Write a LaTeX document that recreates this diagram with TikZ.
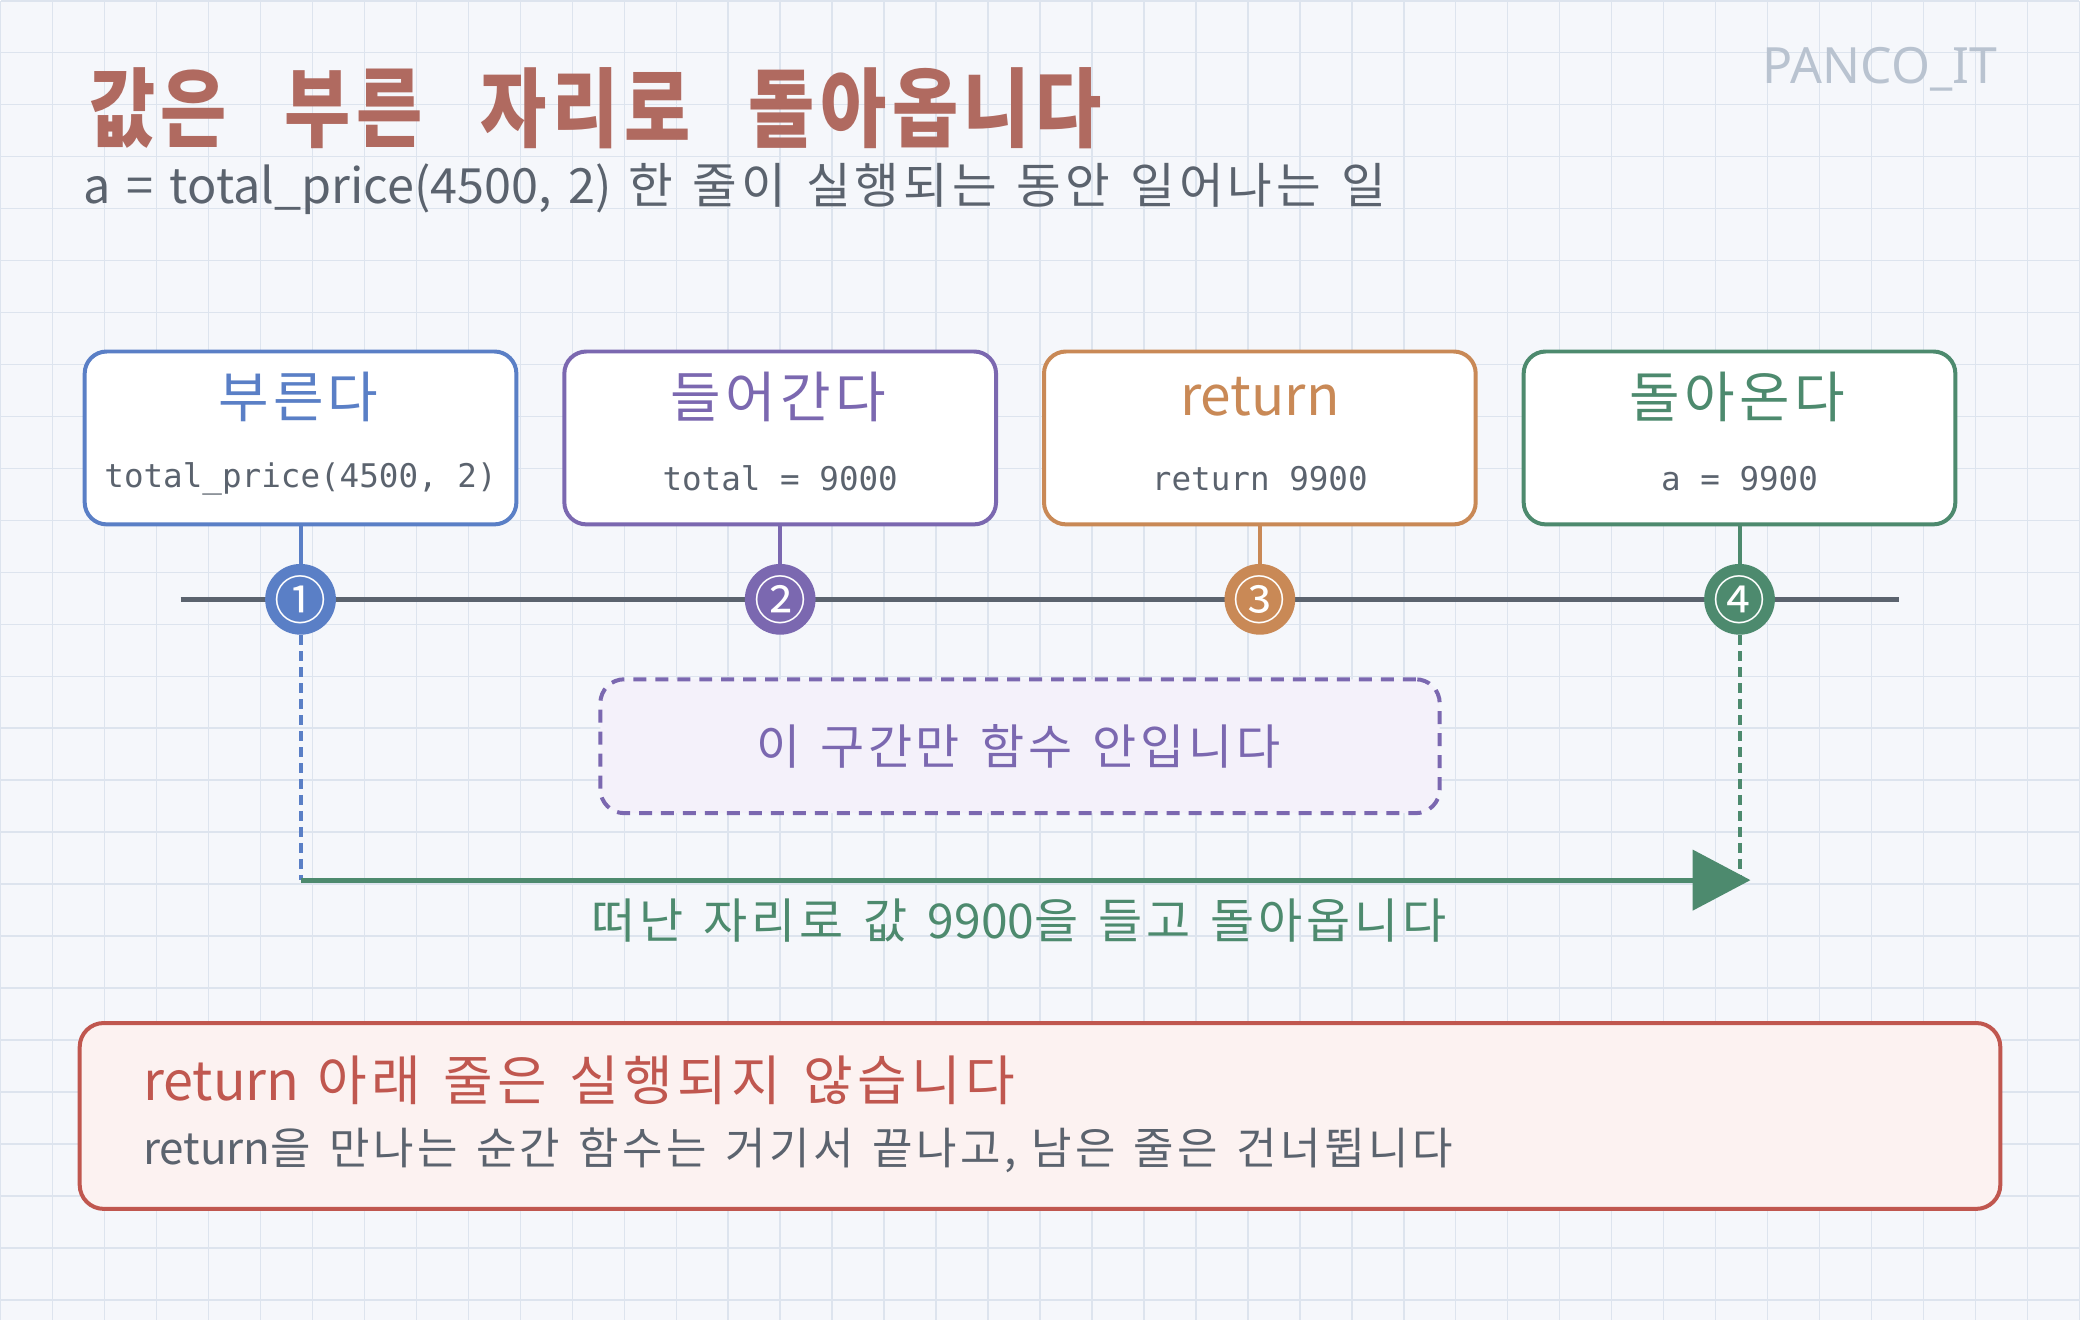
\documentclass[tikz,border=0pt]{standalone}
\usepackage{fontspec}
\usepackage{graphicx}
\setmainfont{Noto Sans CJK KR}[WordSpace=1.5]
\setmonofont{DejaVu Sans Mono}
\newfontfamily\brandfont{Noto Sans}
% a little more room after each Hangul syllable
\XeTeXinterchartokenstate=1
\newXeTeXintercharclass\hangul
\newcount\hangulcode
\hangulcode="AC00
\loop
	\XeTeXcharclass\hangulcode=\hangul
	\ifnum\hangulcode<"D7A3
	\advance\hangulcode by 1
\repeat
\XeTeXinterchartoks\hangul\hangul{\kern0.08em\relax}
\XeTeXinterchartoks\hangul 0 {\kern0.08em\relax}
\XeTeXinterchartoks\hangul 4095 {\kern0.08em\relax}
\usepackage{tikz}
\usetikzlibrary{arrows.meta}
\definecolor{paper}{HTML}{F5F7FB}
\definecolor{gridline}{HTML}{DDE4EE}
\definecolor{ink}{HTML}{5B636E}
\definecolor{brand}{HTML}{B9C3D0}
\definecolor{titlebrown}{HTML}{B06A60}
\definecolor{callblue}{HTML}{5A7FC6}
\definecolor{inpurple}{HTML}{7B68B0}
\definecolor{inpurplefill}{HTML}{F4F1FA}
\definecolor{retorange}{HTML}{C98956}
\definecolor{backgreen}{HTML}{4D8A6E}
\definecolor{notered}{HTML}{C0574F}
\definecolor{notefill}{HTML}{FCF2F1}
\tikzset{>={Triangle[length=29pt,width=30pt]}}

\begin{document}
\begin{tikzpicture}[x=0.5pt,y=-0.5pt,
	stage/.style={draw,line width=2pt,rounded corners=11pt,fill=white,minimum width=216pt,minimum height=86.5pt},
	head/.style={font=\fontsize{27.5}{32}\selectfont},
	code/.style={font=\ttfamily\fontsize{16.3}{20}\selectfont,text=ink},
	marker/.style={circle,minimum size=33pt,inner sep=0pt,text=white,font=\fontsize{26}{28}\selectfont},
	stem/.style={line width=2pt},
	trail/.style={line width=2pt,dash pattern=on 5pt off 3pt}]
	% paper and grid
	\fill[paper] (0,0) rectangle (2080,1320);
	\draw[gridline,line width=0.75pt,step=26pt] (0,1320) grid (2080,0);
	% heading
	\node[anchor=west,inner sep=0,text=titlebrown,font=\bfseries\fontsize{36}{40}\selectfont] (title) at (88,108) {\scalebox{1}[1.2]{값은\hspace{0.72em}부른\hspace{0.72em}자리로\hspace{0.72em}돌아옵니다}};
	\node[anchor=west,inner sep=0,text=ink,font=\fontsize{24.3}{28}\selectfont] (subtitle) at (82,188) {a = total\_price(4500, 2) 한 줄이 실행되는 동안 일어나는 일};
	\node[anchor=base east,inner sep=0,text=brand,font=\brandfont\fontsize{25}{28}\selectfont] (brand) at (1998,83) {PANCO\_IT};
	% four stages
	\node[stage,draw=callblue] (call) at (300,437.5) {};
	\node[head,text=callblue] (call head) at (300,396) {부른다};
	\node[code] (call code) at (300,478) {total\_price(4500, 2)};
	\node[stage,draw=inpurple] (enter) at (780,437.5) {};
	\node[head,text=inpurple] (enter head) at (780,396) {들어간다};
	\node[code] (enter code) at (780,478) {total = 9000};
	\node[stage,draw=retorange] (ret) at (1260,437.5) {};
	\node[head,text=retorange] (ret head) at (1260,396) {return};
	\node[code] (ret code) at (1260,478) {return 9900};
	\node[stage,draw=backgreen] (back) at (1740,437.5) {};
	\node[head,text=backgreen] (back head) at (1740,396) {돌아온다};
	\node[code] (back code) at (1740,478) {a = 9900};
	% timeline
	\coordinate (line start) at (180,599);
	\coordinate (line end) at (1900,599);
	\draw[ink,line width=2.5pt] (line start) -- (line end);
	\node[marker,fill=callblue] (m1) at (300,599) {①};
	\node[marker,fill=inpurple] (m2) at (780,599) {②};
	\node[marker,fill=retorange] (m3) at (1260,599) {③};
	\node[marker,fill=backgreen] (m4) at (1740,599) {④};
	\draw[stem,callblue] (call) -- (m1);
	\draw[stem,inpurple] (enter) -- (m2);
	\draw[stem,retorange] (ret) -- (m3);
	\draw[stem,backgreen] (back) -- (m4);
	% inside the function
	\node[draw=inpurple,fill=inpurplefill,line width=2pt,dash pattern=on 6.5pt off 4.5pt,rounded corners=12pt,minimum width=420pt,minimum height=67pt,text=inpurple,font=\fontsize{24}{28}\selectfont] (inside) at (1020,746) {이 구간만 함수 안입니다};
	% way back
	\coordinate (turn) at (300,880);
	\coordinate (landing) at (1740,880);
	\coordinate (tip) at (1751,880);
	\draw[trail,callblue] (m1) -- (turn);
	\draw[trail,backgreen] (m4) -- (landing);
	\draw[backgreen,line width=2.5pt,->] (turn) -- (tip);
	\node[text=backgreen,font=\fontsize{24}{28}\selectfont] (way back) at (1021,920) {떠난 자리로 값 9900을 들고 돌아옵니다};
	% note
	\node[draw=notered,fill=notefill,line width=2pt,rounded corners=12pt,minimum width=961pt,minimum height=93pt] (note) at (1040,1116) {};
	\node[anchor=west,inner sep=0,text=notered,font=\fontsize{27}{30}\selectfont] (note head) at (142,1080) {return 아래 줄은 실행되지 않습니다};
	\node[anchor=west,inner sep=0,text=ink,font=\fontsize{22}{26}\selectfont] (note body) at (142,1150) {return을 만나는 순간 함수는 거기서 끝나고, 남은 줄은 건너뜁니다};
\end{tikzpicture}
\end{document}
